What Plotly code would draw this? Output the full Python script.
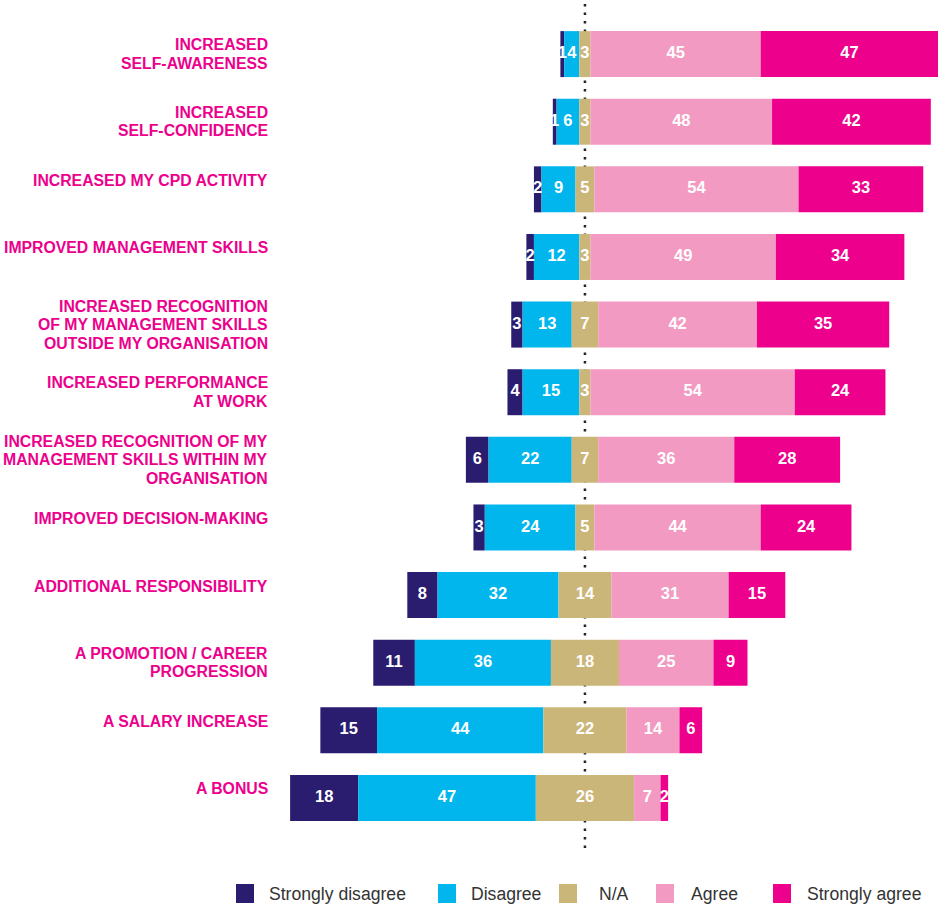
import plotly.graph_objects as go

# survey outcomes, top row first
labels = [
    'INCREASED<br>SELF-AWARENESS',
    'INCREASED<br>SELF-CONFIDENCE',
    'INCREASED MY CPD ACTIVITY',
    'IMPROVED MANAGEMENT SKILLS',
    'INCREASED RECOGNITION<br>OF MY MANAGEMENT SKILLS<br>OUTSIDE MY ORGANISATION',
    'INCREASED PERFORMANCE<br>AT WORK',
    'INCREASED RECOGNITION OF MY<br>MANAGEMENT SKILLS WITHIN MY<br>ORGANISATION',
    'IMPROVED DECISION-MAKING',
    'ADDITIONAL RESPONSIBILITY',
    'A PROMOTION / CAREER<br>PROGRESSION',
    'A SALARY INCREASE',
    'A BONUS',
]
strongly_disagree = [1, 1, 2, 2, 3, 4, 6, 3, 8, 11, 15, 18]
disagree = [4, 6, 9, 12, 13, 15, 22, 24, 32, 36, 44, 47]
not_applicable = [3, 3, 5, 3, 7, 3, 7, 5, 14, 18, 22, 26]
agree = [45, 48, 54, 49, 42, 54, 36, 44, 31, 25, 14, 7]
strongly_agree = [47, 42, 33, 34, 35, 24, 28, 24, 15, 9, 6, 2]

series_names = ['Strongly disagree', 'Disagree', 'N/A', 'Agree', 'Strongly agree']
colors = ['#2a1c6e', '#00b6ed', '#cbb67a', '#f39ac2', '#ec008c']

rows = list(range(len(labels)))

# N/A sits centred on zero, disagreement to the left, agreement to the right
na_base = [-v / 2 for v in not_applicable]
dis_base = [b - d for b, d in zip(na_base, disagree)]
sd_base = [b - s for b, s in zip(dis_base, strongly_disagree)]
agree_base = [v / 2 for v in not_applicable]
sa_base = [b + a for b, a in zip(agree_base, agree)]

segments = [
    (strongly_disagree, sd_base),
    (disagree, dis_base),
    (not_applicable, na_base),
    (agree, agree_base),
    (strongly_agree, sa_base),
]

fig = go.Figure()
for (vals, base), name, col in zip(segments, series_names, colors):
    fig.add_trace(
        go.Bar(
            y=rows,
            x=vals,
            base=base,
            orientation='h',
            name=name,
            marker=dict(color=col, line=dict(width=0)),
            width=0.68,
            showlegend=False,
            hoverinfo='skip',
        )
    )
    # value labels at segment centres (kept unscaled, like the original)
    fig.add_trace(
        go.Scatter(
            y=rows,
            x=[b + v / 2 for b, v in zip(base, vals)],
            text=[str(v) for v in vals],
            mode='text',
            textfont=dict(family='Liberation Sans', size=16.5, color='white', weight='bold'),
            showlegend=False,
            hoverinfo='skip',
            cliponaxis=False,
        )
    )

# category labels on the left, one annotation per line for tighter leading
LINE_GAP = 18.5
for i, lab in enumerate(labels):
    parts = lab.split('<br>')
    n = len(parts)
    lift = 9 if n == 1 else 0
    for k, part in enumerate(parts):
        fig.add_annotation(
            x=-0.0075, xref='paper', xanchor='right',
            y=i, yref='y', yanchor='middle',
            yshift=lift - (k - (n - 1) / 2) * LINE_GAP,
            text=part, showarrow=False, align='right',
            font=dict(family='Liberation Sans', size=15.8, color='#ec008c', weight='bold'),
        )

# dotted centre line
fig.add_shape(
    type='line', xref='x', yref='paper', x0=0, x1=0, y0=0, y1=1,
    line=dict(color='#222222', width=2.5, dash='2.5px,6px'),
    layer='below',
)

# hand-made legend along the bottom
legend_sq = [236, 438, 559, 656, 773]
legend_tx = [267, 469, 597, 689, 805]
W, H = 938, 905
L, R, T, B = 275, 0, 0, 57
pw, ph = W - L - R, H - T - B
for name, col, sx, tx in zip(series_names, colors, legend_sq, legend_tx):
    fig.add_shape(
        type='rect', xref='paper', yref='paper',
        x0=(sx - L) / pw, x1=(sx + 18 - L) / pw,
        y0=(ph - 903) / ph, y1=(ph - 884) / ph,
        fillcolor=col, line=dict(width=0),
    )
    fig.add_annotation(
        x=(tx - L) / pw, xref='paper', xanchor='left',
        y=(ph - 893.5) / ph, yref='paper', yanchor='middle',
        text=name, showarrow=False,
        font=dict(family='Liberation Sans', size=17.6, color='#333333'),
    )

fig.update_layout(
    width=W, height=H,
    margin=dict(l=L, r=R, t=T, b=B),
    plot_bgcolor='white', paper_bgcolor='white',
    barmode='overlay',
    showlegend=False,
    xaxis=dict(range=[-82, 93.4], visible=False, showgrid=False, zeroline=False, fixedrange=True),
    yaxis=dict(range=[11.74, -0.8], visible=False, showgrid=False, zeroline=False, fixedrange=True),
)

# drop the default page margin so the figure sits at the window's corner
fig.write_html(
    'out.html',
    config={'displayModeBar': False},
    post_script="document.body.style.margin='0';",
)
